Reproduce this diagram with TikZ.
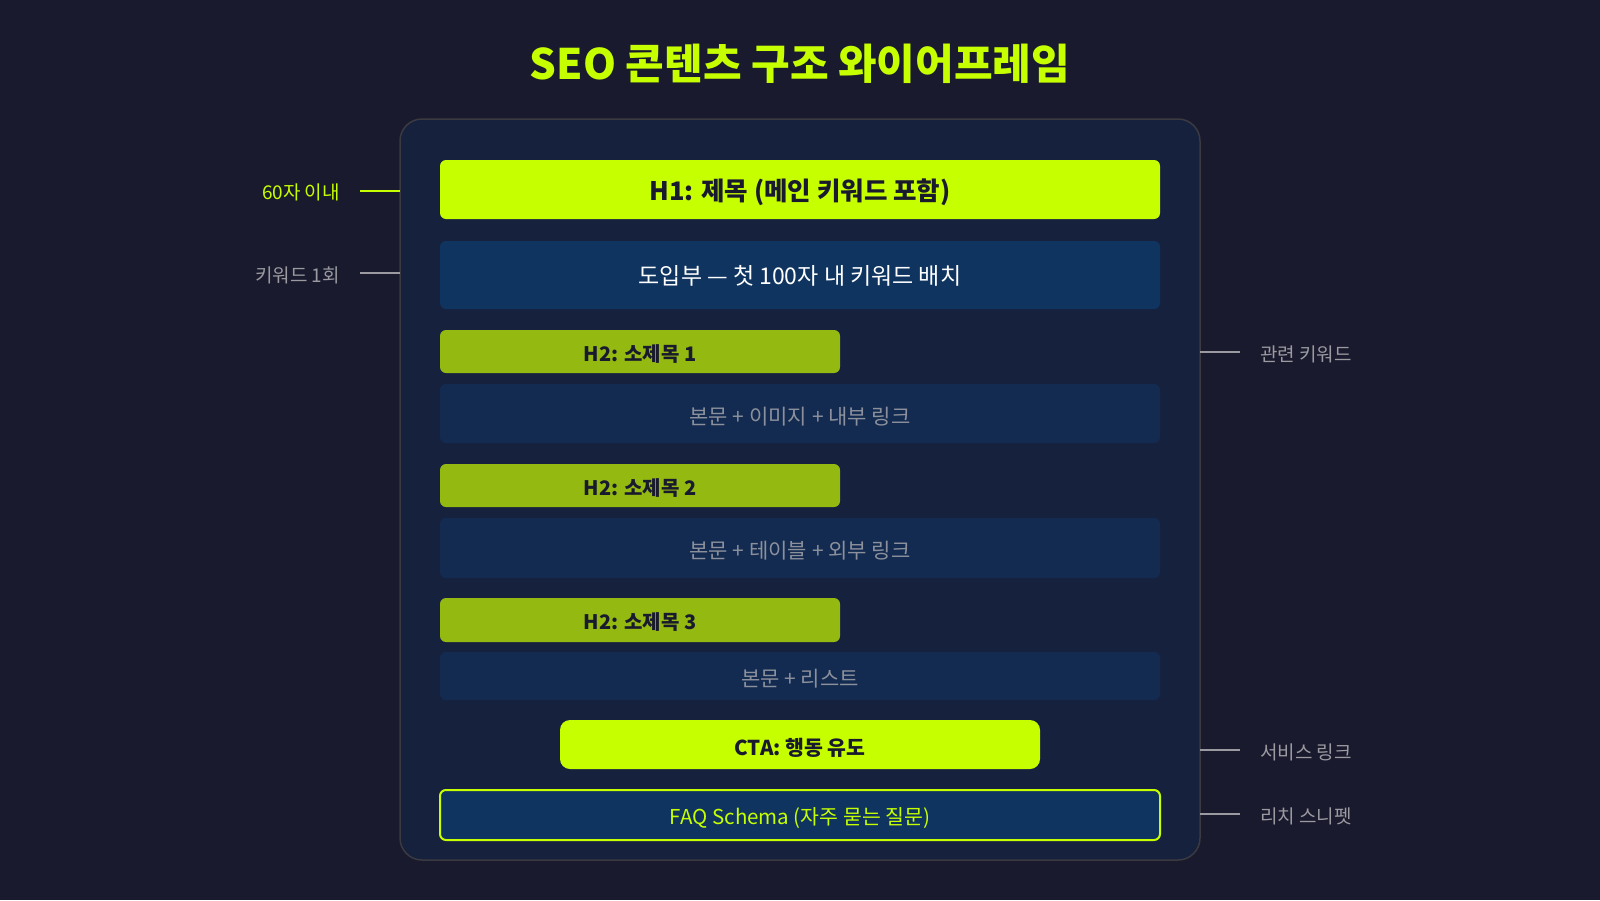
\documentclass[tikz,border=0pt]{standalone}
\usepackage{fontspec}
\setmainfont{Noto Sans CJK KR}
\newfontfamily\kr{Noto Sans CJK KR}
\definecolor{bgc}{HTML}{1A1A2E}
\definecolor{outerc}{HTML}{16213E}
\definecolor{borderc}{HTML}{3A3A40}
\definecolor{introc}{HTML}{0F3460}
\definecolor{bodyc}{HTML}{132B50}
\definecolor{limec}{HTML}{C6FF00}
\definecolor{h2c}{HTML}{94BA12}
\definecolor{darktxt}{HTML}{1A1A2E}
\definecolor{graytxt}{HTML}{8C909C}
\definecolor{labelgray}{HTML}{9A9AA0}
\begin{document}
\begin{tikzpicture}[x=1pt,y=-1pt,
  lbl/.style={font=\kr\fontsize{19}{22}\selectfont, inner sep=0pt},
  tick/.style={line width=2pt}]
\useasboundingbox (0,0) rectangle (1600,900);
\fill[bgc] (0,0) rectangle (1600,900);
% title
\node[font=\kr\bfseries\fontsize{42}{48}\selectfont, text=limec] (title) at (800,64) {SEO 콘텐츠 구조 와이어프레임};
% outer box
\draw[borderc, fill=outerc, line width=1.5pt, rounded corners=22pt] (400,119) rectangle (1200,860);
\coordinate (oL1) at (400,191);
\coordinate (oL2) at (400,273);
\coordinate (oR1) at (1200,352);
\coordinate (oR2) at (1200,750);
\coordinate (oR3) at (1200,814);
% H1
\fill[limec, rounded corners=6pt] (440,160) rectangle (1160,219);
\node[font=\kr\bfseries\fontsize{25.5}{30}\selectfont, text=darktxt] (h1) at (800,192) {H1: 제목 (메인 키워드 포함)};
% intro
\fill[introc, rounded corners=6pt] (440,241) rectangle (1160,309);
\node[font=\kr\fontsize{23}{28}\selectfont, text=white] (intro) at (800,276) {도입부 — 첫 100자 내 키워드 배치};
% H2 1
\fill[h2c, rounded corners=6pt] (440,330) rectangle (840,373);
\node[font=\kr\bfseries\fontsize{20}{24}\selectfont, text=darktxt] (h2a) at (640,354) {H2: 소제목 1};
\fill[bodyc, rounded corners=6pt] (440,384) rectangle (1160,443);
\node[font=\kr\fontsize{21}{25}\selectfont, text=graytxt] (b1) at (800,417) {본문 + 이미지 + 내부 링크};
% H2 2
\fill[h2c, rounded corners=6pt] (440,464) rectangle (840,507);
\node[font=\kr\bfseries\fontsize{20}{24}\selectfont, text=darktxt] (h2b) at (640,488) {H2: 소제목 2};
\fill[bodyc, rounded corners=6pt] (440,518) rectangle (1160,578);
\node[font=\kr\fontsize{21}{25}\selectfont, text=graytxt] (b2) at (800,551) {본문 + 테이블 + 외부 링크};
% H2 3
\fill[h2c, rounded corners=6pt] (440,598) rectangle (840,642);
\node[font=\kr\bfseries\fontsize{20}{24}\selectfont, text=darktxt] (h2c) at (640,622) {H2: 소제목 3};
\fill[bodyc, rounded corners=6pt] (440,652) rectangle (1160,700);
\node[font=\kr\fontsize{21}{25}\selectfont, text=graytxt] (b3) at (800,679) {본문 + 리스트};
% CTA
\fill[limec, rounded corners=10pt] (560,720) rectangle (1040,769);
\node[font=\kr\bfseries\fontsize{20.5}{24}\selectfont, text=darktxt] (cta) at (800,748) {CTA: 행동 유도};
% FAQ
\draw[limec, fill=introc, line width=2pt, rounded corners=6pt] (440,790) rectangle (1160,840);
\node[font=\kr\fontsize{20.5}{24}\selectfont, text=limec] (faq) at (800,818) {FAQ Schema (자주 묻는 질문)};
% left labels
\node[lbl, text=limec, anchor=east] (l1) at (340,192) {60자 이내};
\draw[tick, limec] (360,191) -- (oL1);
\node[lbl, text=labelgray, anchor=east] (l2) at (340,275) {키워드 1회};
\draw[tick, labelgray] (360,273) -- (oL2);
% right labels
\node[lbl, text=labelgray, anchor=west] (r1) at (1260,354) {관련 키워드};
\draw[tick, labelgray] (oR1) -- (1240,352);
\node[lbl, text=labelgray, anchor=west] (r2) at (1260,752) {서비스 링크};
\draw[tick, labelgray] (oR2) -- (1240,750);
\node[lbl, text=labelgray, anchor=west] (r3) at (1260,816) {리치 스니펫};
\draw[tick, labelgray] (oR3) -- (1240,814);
\end{tikzpicture}
\end{document}
